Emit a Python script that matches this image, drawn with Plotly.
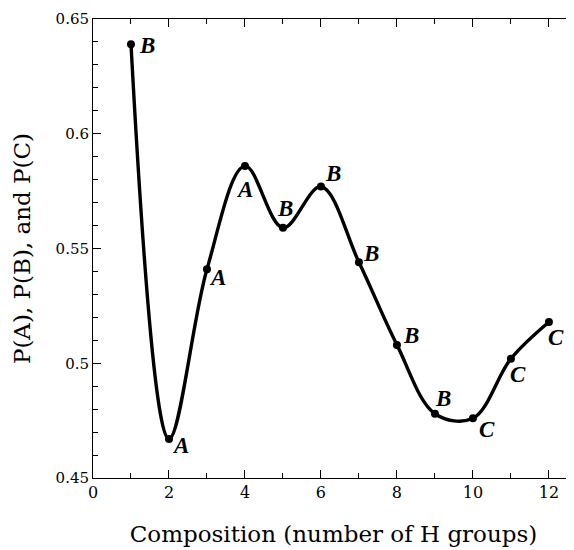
import plotly.graph_objects as go

compositions = [1, 2, 3, 4, 5, 6, 7, 8, 9, 10, 11, 12]
probabilities = [0.639, 0.467, 0.541, 0.586, 0.559, 0.577, 0.544, 0.508, 0.478, 0.476, 0.502, 0.518]
site_labels = ["B", "A", "A", "A", "B", "B", "B", "B", "B", "C", "C", "C"]
# label offsets (pixels) relative to each point
label_dx = [16, 12, 11, 0, 2, 12, 12, 14, 8, 14, 7, 7]
label_dy = [-1, -7, -8, -24, 19, 13, 9, 9, 15, -11, -16, -16]

fig = go.Figure()
fig.add_trace(go.Scatter(
    x=compositions, y=probabilities, mode="lines+markers",
    line=dict(color="black", width=3.4, shape="spline", smoothing=1.0),
    marker=dict(color="black", size=8),
    hoverinfo="skip", showlegend=False,
))

for xv, yv, t, dx, dy in zip(compositions, probabilities, site_labels, label_dx, label_dy):
    fig.add_annotation(
        x=xv, y=yv, text=f"<b><i>{t}</i></b>", showarrow=False,
        xshift=dx, yshift=dy,
        font=dict(family="Liberation Serif", size=23, color="black"),
    )

axis_font = dict(family="DejaVu Serif", size=15, color="black")
fig.update_layout(
    width=566, height=542,
    margin=dict(l=85, r=0, t=11, b=72),
    plot_bgcolor="white", paper_bgcolor="white",
    font=axis_font,
    xaxis=dict(
        range=[0, 12.66], tickmode="array", tickvals=[0, 2, 4, 6, 8, 10, 12],
        ticks="inside", ticklen=8, tickwidth=1, tickcolor="black",
        minor=dict(tickvals=[1, 3, 5, 7, 9, 11], ticks="inside", ticklen=5, tickcolor="black"),
        showline=True, linecolor="black", linewidth=1, mirror="ticks",
        showgrid=False, zeroline=False,
        tickfont=dict(family="DejaVu Serif", size=16, color="black"),
        title=dict(text="Composition (number of H groups)",
                   font=dict(family="DejaVu Serif", size=23, color="black"), standoff=24),
    ),
    yaxis=dict(
        range=[0.45, 0.65], tickmode="array", tickvals=[0.45, 0.5, 0.55, 0.6, 0.65],
        ticktext=["0.45", "0.5", "0.55", "0.6", "0.65"],
        ticks="inside", ticklen=8, tickwidth=1, tickcolor="black",
        minor=dict(dtick=0.01, tick0=0.45, ticks="inside", ticklen=5, tickcolor="black"),
        showline=True, linecolor="black", linewidth=1, mirror=False,
        showgrid=False, zeroline=False,
        tickfont=axis_font,
        title=dict(text="P(A), P(B), and P(C)",
                   font=dict(family="DejaVu Serif", size=23, color="black"), standoff=18),
    ),
)

fig.write_html("out.html")
